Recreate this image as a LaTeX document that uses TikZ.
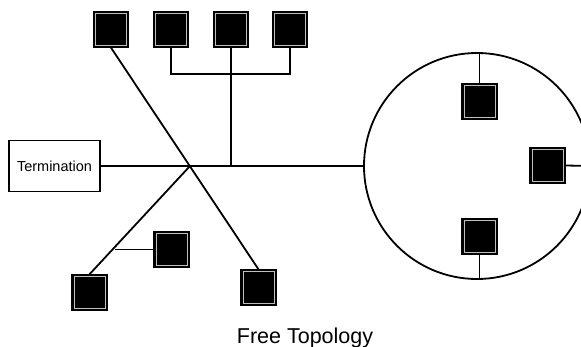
\documentclass[tikz,border=0pt]{standalone}
\usepackage{fontspec}
\setmainfont{Liberation Sans}
\begin{document}
\begin{tikzpicture}[x=1pt,y=-1pt,
  line width=1.8pt,
  dev/.style={draw=black,fill=black,line width=1.4pt,minimum width=35pt,minimum height=35pt,inner sep=0pt,
    path picture={\draw[gray!50,line width=0.6pt] ([shift={(1.8pt,-1.8pt)}]path picture bounding box.north west) rectangle ([shift={(-1.8pt,1.8pt)}]path picture bounding box.south east);}},
  termbox/.style={draw=black,line width=1.6pt,minimum width=91pt,minimum height=51pt,inner sep=0pt,font=\fontsize{14.5}{16}\selectfont}]
\useasboundingbox (0,0) rectangle (581,347);
\clip (0,0) rectangle (581,347);
% devices
\node[dev] (t1) at (111,29.5) {};
\node[dev] (t2) at (171,29.5) {};
\node[dev] (t3) at (231,29.5) {};
\node[dev] (t4) at (290,29.5) {};
\node[dev] (bl) at (89.5,292.5) {};
\node[dev] (bm) at (171.5,249.5) {};
\node[dev] (br) at (258.5,287.5) {};
\node[dev] (c1) at (479.5,101.5) {};
\node[dev] (c2) at (547.5,165.5) {};
\node[dev] (c3) at (479.5,236.5) {};
\node[termbox] (term) at (54.5,166) {Termination};
\node[draw=black,line width=1.8pt,circle,minimum size=226pt,inner sep=0pt] (ring) at (477,166) {};
\node[anchor=base,font=\fontsize{21.5}{24}\selectfont] (title) at (305,343) {Free Topology};
% connectors
\coordinate (x) at (190,166);
\coordinate (comb) at (231,74);
\coordinate (br1) at (115,249.5);
\draw (term.east) -- (ring.west);
\draw (t1.south) -- (br.north);
\draw (x) -- (bl.north);
\draw (br1) -- (bm.west);
\draw (t2.south) |- (comb) -| (t4.south);
\draw (t3.south) -- (t3.south |- x);
\draw (c1.north) -- (c1.north |- ring.north);
\draw (c3.south) -- (c3.south |- ring.south);
\draw (c2.east) -- (ring.east);
\end{tikzpicture}
\end{document}
